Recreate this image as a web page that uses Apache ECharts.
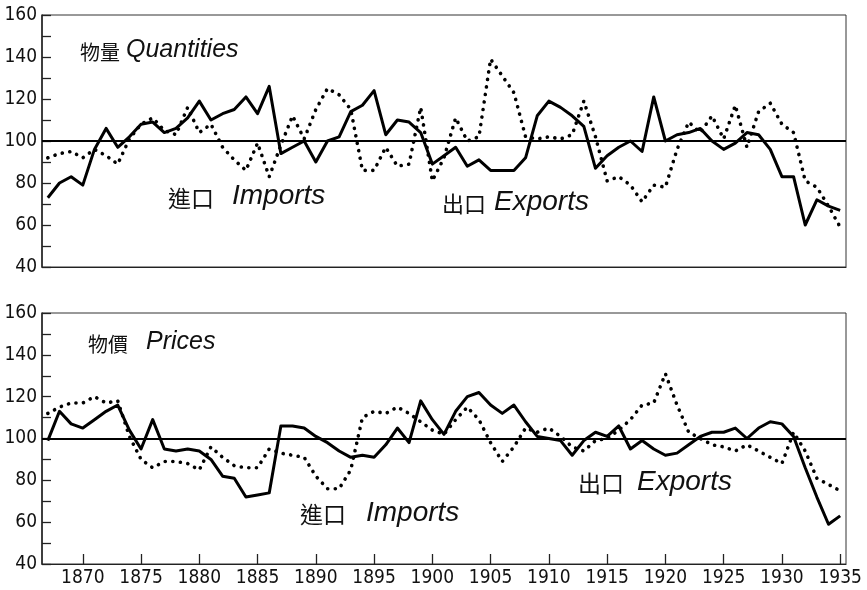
<!DOCTYPE html>
<html>
<head>
<meta charset="utf-8">
<script src="https://cdn.jsdelivr.net/npm/echarts@6/dist/echarts.min.js"></script>
<style>
  body { margin: 0; background: #fff; }
  #chart { width: 867px; height: 590px; }
</style>
</head>
<body>
<div id="chart"></div>
<script>
// years on the x axis
const years = [
  1867,1868,1869,1870,1871,1872,1873,1874,1875,1876,
  1877,1878,1879,1880,1881,1882,1883,1884,1885,1886,
  1887,1888,1889,1890,1891,1892,1893,1894,1895,1896,
  1897,1898,1899,1900,1901,1902,1903,1904,1905,1906,
  1907,1908,1909,1910,1911,1912,1913,1914,1915,1916,
  1917,1918,1919,1920,1921,1922,1923,1924,1925,1926,
  1927,1928,1929,1930,1931,1932,1933,1934,1935
]

// 物量 Quantities
const qtyExports = [
  73,80,83,79,96,106,97,102,108,109,
  104,106,111,119,110,113,115,121,113,126,
  94,97,100,90,100,102,114,117,124,103,
  110,109,104,89,93,97,88,91,86,86,
  86,92,112,119,116,112,107,87,93,97,
  100,95,121,100,103,104,106,100,96,99,
  104,103,96,83,83,60,72,69,67
]
const qtyImports = [
  92,94,95,92,96,93,89,101,108,111,
  105,103,116,104,108,97,91,86,99,83,
  98,112,101,115,125,122,115,86,86,97,
  88,89,116,81,92,111,100,102,139,131,
  123,102,101,102,101,103,119,102,81,83,
  79,71,79,78,96,109,104,112,101,117,
  97,114,118,108,104,81,78,69,59
]

// 物價 Prices
const priceExports = [
  99,113,107,105,109,113,116,104,95,109,
  95,94,95,94,90,82,81,72,73,74,
  106,106,105,101,98,94,91,92,91,97,
  105,98,118,109,102,113,120,122,116,112,
  116,108,101,100,99,92,99,103,101,106,
  95,99,95,92,93,97,101,103,103,105,
  100,105,108,107,101,86,72,59,63
]
const priceImports = [
  112,115,117,117,120,117,118,101,90,86,
  89,89,88,85,96,91,87,86,86,95,
  93,92,91,82,76,76,85,110,113,112,
  115,112,108,104,102,109,115,109,98,89,
  96,105,103,105,101,96,94,99,100,104,
  109,116,117,131,116,103,100,97,96,94,
  97,94,91,88,103,94,81,78,75
]

const yTicks = [40, 60, 80, 100, 120, 140, 160]

const narrow = "'DejaVu Sans Condensed', 'Liberation Sans Narrow', 'Liberation Sans', sans-serif"
const cjk = "'Noto Sans CJK TC', 'Noto Sans CJK SC', sans-serif"
const latin = "'Liberation Sans', 'DejaVu Sans', sans-serif"

let myChart = echarts.init(document.getElementById("chart"))

function yAxis(gridIndex) {
  return {
    type: "value",
    gridIndex: gridIndex,
    min: 40,
    max: 160,
    interval: 10,
    axisLine: { show: true, lineStyle: { color: "#222", width: 1.5 } },
    axisTick: { show: true, inside: true, length: 9, lineStyle: { color: "#222", width: 1.3 } },
    axisLabel: {
      color: "#111",
      fontFamily: narrow,
      fontSize: 19,
      margin: 5,
      formatter: v => (yTicks.indexOf(v) >= 0 ? String(v) : "")
    },
    splitLine: { show: false }
  }
}

function xAxis(gridIndex, labels) {
  return {
    type: "category",
    gridIndex: gridIndex,
    data: years,
    boundaryGap: true,
    axisLine: { show: true, lineStyle: { color: "#222", width: 1.2 } },
    axisTick: {
      show: labels,
      inside: true,
      length: 10,
      alignWithLabel: true,
      interval: (i, v) => v % 5 === 0,
      lineStyle: { color: "#222", width: 1.3 }
    },
    axisLabel: {
      show: labels,
      interval: (i, v) => v % 5 === 0,
      color: "#111",
      fontFamily: narrow,
      fontSize: 19,
      margin: 5
    },
    splitLine: { show: false }
  }
}

// 100 reference line
const line100 = {
  silent: true,
  symbol: "none",
  label: { show: false },
  lineStyle: { color: "#000", width: 2, type: "solid" },
  data: [{ yAxis: 100 }]
}

function exportsLine(idx, data) {
  return {
    type: "line",
    xAxisIndex: idx,
    yAxisIndex: idx,
    data: data,
    symbol: "none",
    lineStyle: { color: "#000", width: 3, join: "round" },
    markLine: line100,
    z: 3
  }
}

function importsLine(idx, data) {
  return {
    type: "line",
    xAxisIndex: idx,
    yAxisIndex: idx,
    data: data,
    symbol: "none",
    lineStyle: { color: "#000", width: 3.6, type: [0.1, 7.5], cap: "round" },
    z: 2
  }
}

function txt(left, top, text, font, size, italic) {
  return {
    type: "text",
    left: left,
    top: top,
    style: {
      text: text,
      fill: "#111",
      font: (italic ? "italic " : "") + size + "px " + font
    }
  }
}

myChart.setOption({
  animation: false,
  backgroundColor: "#fff",
  grid: [
    { left: 42, right: 21, top: 15, height: 252, show: true, borderColor: "#333", borderWidth: 1 },
    { left: 42, right: 21, top: 313, height: 251, show: true, borderColor: "#333", borderWidth: 1 }
  ],
  xAxis: [xAxis(0, false), xAxis(1, true)],
  yAxis: [yAxis(0), yAxis(1)],
  series: [
    exportsLine(0, qtyExports),
    importsLine(0, qtyImports),
    exportsLine(1, priceExports),
    importsLine(1, priceImports)
  ],
  graphic: [
    txt(80, 42, "物量", cjk, 20, false),
    txt(126, 38, "Quantities", latin, 25, true),
    txt(168, 187, "進口", cjk, 23, false),
    txt(232, 182, "Imports", latin, 28, true),
    txt(442, 193, "出口", cjk, 22, false),
    txt(494, 188, "Exports", latin, 28, true),
    txt(88, 334, "物價", cjk, 20, false),
    txt(146, 330, "Prices", latin, 25, true),
    txt(578, 472, "出口", cjk, 23, false),
    txt(637, 468, "Exports", latin, 28, true),
    txt(300, 503, "進口", cjk, 23, false),
    txt(366, 499, "Imports", latin, 28, true)
  ]
})
</script>
</body>
</html>
